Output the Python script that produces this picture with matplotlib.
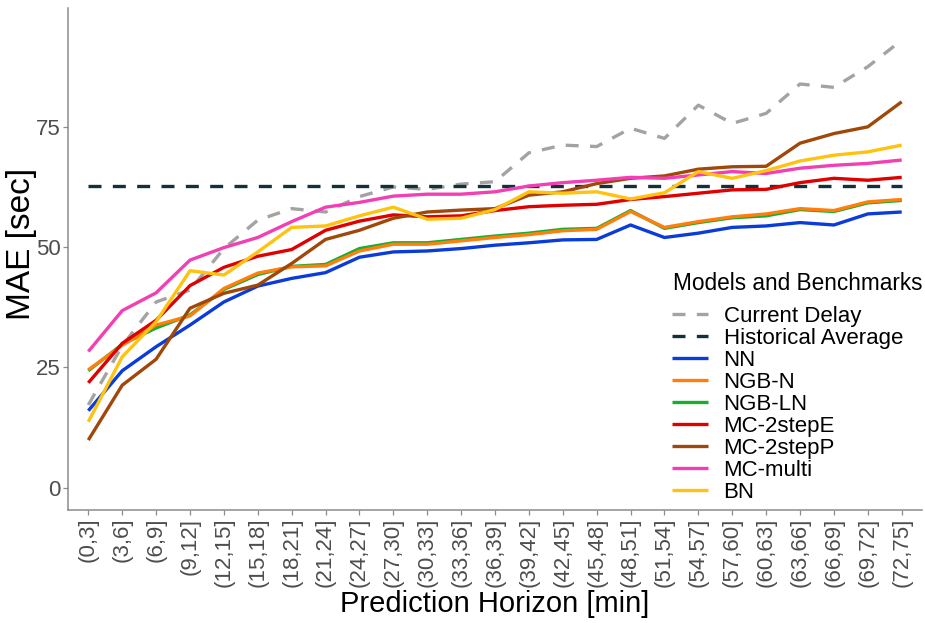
import matplotlib
matplotlib.use("Agg")
import matplotlib.pyplot as plt

plt.rcParams['font.family'] = ['Liberation Sans', 'DejaVu Sans']

# Prediction horizon bins
horizons = ['(0,3]', '(3,6]', '(6,9]', '(9,12]', '(12,15]', '(15,18]', '(18,21]',
            '(21,24]', '(24,27]', '(27,30]', '(30,33]', '(33,36]', '(36,39]',
            '(39,42]', '(42,45]', '(45,48]', '(48,51]', '(51,54]', '(54,57]',
            '(57,60]', '(60,63]', '(63,66]', '(66,69]', '(69,72]', '(72,75]']

# MAE [sec] per horizon bin
current_delay = [17.2, 29.5, 38.6, 41.1, 49.7, 55.6, 58.0, 57.3, 60.5, 62.5, 62.0, 63.1, 63.6,
                 69.6, 71.2, 70.9, 74.7, 72.6, 79.5, 75.7, 77.8, 83.9, 83.2, 87.5, 93.0]
historical_avg = [62.7, 62.7, 62.7, 62.7, 62.7, 62.7, 62.7, 62.7, 62.7, 62.7, 62.7, 62.7, 62.7,
                  62.7, 62.7, 62.7, 62.7, 62.7, 62.7, 62.7, 62.7, 62.7, 62.7, 62.7, 62.7]
nn = [16.0, 24.3, 29.3, 33.8, 38.6, 41.9, 43.5, 44.7, 47.9, 49.0, 49.2, 49.7, 50.4,
      50.9, 51.5, 51.6, 54.6, 52.0, 52.9, 54.1, 54.4, 55.1, 54.6, 56.9, 57.3]
ngb_n = [24.5, 29.6, 33.8, 35.7, 41.4, 44.6, 45.9, 46.1, 49.2, 50.6, 50.6, 51.3, 52.0,
         52.6, 53.4, 53.7, 57.4, 54.1, 55.3, 56.3, 56.9, 58.0, 57.6, 59.4, 59.9]
ngb_ln = [24.3, 29.8, 33.2, 35.9, 41.2, 44.3, 46.0, 46.4, 49.7, 50.9, 50.9, 51.6, 52.3,
          52.9, 53.7, 53.9, 57.6, 53.9, 55.1, 56.1, 56.5, 57.8, 57.4, 59.2, 59.7]
mc_2step_e = [21.8, 30.0, 34.8, 42.0, 45.8, 48.1, 49.5, 53.5, 55.4, 56.7, 56.3, 56.5, 57.6,
              58.4, 58.7, 58.9, 59.9, 60.5, 61.2, 61.9, 62.0, 63.4, 64.3, 63.9, 64.5]
mc_2step_p = [9.9, 21.3, 26.7, 37.3, 40.4, 42.1, 46.6, 51.6, 53.5, 56.0, 57.3, 57.7, 58.0,
              60.8, 61.5, 63.2, 64.3, 64.8, 66.2, 66.7, 66.8, 71.6, 73.6, 75.0, 80.2]
mc_multi = [28.3, 36.8, 40.5, 47.3, 49.9, 52.0, 55.3, 58.3, 59.3, 60.6, 61.0, 61.0, 61.5,
            62.7, 63.4, 63.9, 64.5, 64.3, 65.0, 65.7, 65.3, 66.4, 67.0, 67.4, 68.1]
bn = [13.7, 27.2, 34.5, 45.1, 44.2, 49.0, 54.1, 54.4, 56.5, 58.3, 55.8, 56.0, 57.8,
      61.5, 61.2, 61.5, 60.0, 61.3, 65.7, 64.3, 65.9, 67.9, 69.1, 69.8, 71.2]

# (label, values, colour, dashed, draw order)
series = [
    ('Current Delay', current_delay, '#A3A3A3', True, 2),
    ('Historical Average', historical_avg, '#14303A', True, 3),
    ('NN', nn, '#0A3CD9', False, 4),
    ('NGB-N', ngb_n, '#FF7F0E', False, 6),
    ('NGB-LN', ngb_ln, '#19AE2E', False, 5),
    ('MC-2stepE', mc_2step_e, '#E00000', False, 7),
    ('MC-2stepP', mc_2step_p, '#A0480A', False, 8),
    ('MC-multi', mc_multi, '#F23FB3', False, 9),
    ('BN', bn, '#FFC20E', False, 10),
]

fig = plt.figure(figsize=(9.25, 6.23), dpi=100)
ax = fig.add_axes([0.0735, 0.1814, 0.9233, 0.8058])

x = list(range(len(horizons)))
handles = []
for label, vals, color, dashed, z in series:
    line, = ax.plot(x, vals, color=color, lw=2.4, label=label, zorder=z,
                    solid_capstyle='butt', dash_capstyle='butt')
    if dashed:
        line.set_dashes((3.9, 3.4))
    handles.append(line)

ax.set_xlim(-0.6, len(horizons) - 0.4)
ax.set_ylim(-4.63, 99.7)
ax.set_yticks([0, 25, 50, 75])
ax.set_xticks(x)
ax.set_xticklabels(horizons, rotation=90)

for side in ['top', 'right']:
    ax.spines[side].set_visible(False)
for side in ['left', 'bottom']:
    ax.spines[side].set_color('#8C8C8C')
    ax.spines[side].set_linewidth(1.1)
ax.tick_params(axis='both', colors='#8C8C8C', length=3.5, width=0.9,
               labelcolor='#4D4D4D', labelsize=16, pad=2)

ax.set_xlabel('Prediction Horizon [min]', fontsize=21, labelpad=2)
ax.set_ylabel('MAE [sec]', fontsize=24)
ax.yaxis.set_label_coords(-0.036, 0.53)

# legend sits inside the panel, lower right; title drawn separately for spacing
fig.text(673 / 925, 1 - 290 / 623, 'Models and Benchmarks', fontsize=16.3,
         ha='left', va='baseline')
leg = ax.legend(handles=handles, loc='upper left',
                bbox_to_anchor=(672 / 925, 1 - 306 / 623), bbox_transform=fig.transFigure,
                frameon=False, fontsize=16, handlelength=1.6, handletextpad=0.72,
                labelspacing=0.043, borderpad=0, borderaxespad=0)

fig.savefig('out.png', dpi=100)
